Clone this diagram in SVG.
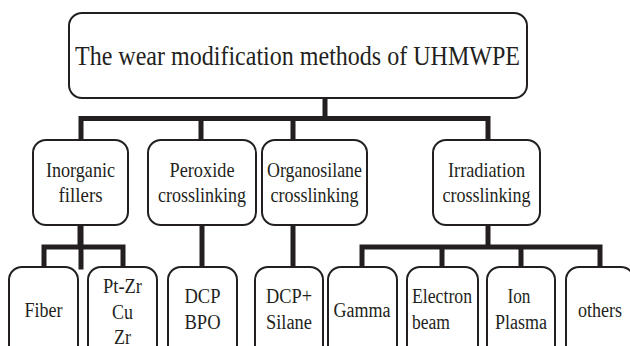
<svg xmlns="http://www.w3.org/2000/svg" width="630" height="346" viewBox="0 0 630 346">
<style>
.box{fill:#fff;stroke:#231f20;stroke-width:2}
.con{fill:none;stroke:#231f20;stroke-width:5;stroke-linejoin:miter;stroke-linecap:square}
</style>
<rect width="630" height="346" fill="#fff"/>
<g id="connectors">
<path class="con" d="M325 98V118.5M81 267V118.5H488V140M201 118.5V140M293 118.5V140"/>
<path class="con" d="M80 225V247M44 267V247H123V267"/>
<path class="con" d="M202 225V267M293 225V267"/>
<path class="con" d="M488 225V247M362 267V247H600V267M442 247V267M521 247V267"/>
</g>
<g font-family="Liberation Serif" fill="#231f20" text-anchor="middle" lengthAdjust="spacingAndGlyphs">
<g id="root">
<rect class="box" x="69" y="13" width="458" height="85" rx="13"/>
<text x="297.5" y="65" font-size="27" textLength="445" lengthAdjust="spacingAndGlyphs">The wear modification methods of UHMWPE</text>
</g>
<g id="inorganic" font-size="21">
<rect class="box" x="33" y="140" width="95" height="85" rx="13"/>
<text x="80.5" y="177" textLength="69" lengthAdjust="spacingAndGlyphs">Inorganic</text>
<text x="80.5" y="202" textLength="44" lengthAdjust="spacingAndGlyphs">fillers</text>
</g>
<g id="peroxide" font-size="21">
<rect class="box" x="148" y="140" width="108" height="85" rx="13"/>
<text x="202" y="177" textLength="65" lengthAdjust="spacingAndGlyphs">Peroxide</text>
<text x="202" y="202" textLength="88" lengthAdjust="spacingAndGlyphs">crosslinking</text>
</g>
<g id="organosilane" font-size="21">
<rect class="box" x="262" y="140" width="105" height="85" rx="13"/>
<text x="314.5" y="177" textLength="95" lengthAdjust="spacingAndGlyphs">Organosilane</text>
<text x="314.5" y="202" textLength="88" lengthAdjust="spacingAndGlyphs">crosslinking</text>
</g>
<g id="irradiation" font-size="21">
<rect class="box" x="433" y="140" width="107" height="85" rx="13"/>
<text x="486.5" y="177" textLength="77" lengthAdjust="spacingAndGlyphs">Irradiation</text>
<text x="486.5" y="202" textLength="88" lengthAdjust="spacingAndGlyphs">crosslinking</text>
</g>
<g id="fiber" font-size="20">
<rect class="box" x="9" y="267" width="69" height="95" rx="13"/>
<text x="43.5" y="317" textLength="38" lengthAdjust="spacingAndGlyphs">Fiber</text>
</g>
<g id="ptzr" font-size="20">
<rect class="box" x="88" y="267" width="69" height="95" rx="13"/>
<text x="122.5" y="293" textLength="39" lengthAdjust="spacingAndGlyphs">Pt-Zr</text>
<text x="122.5" y="319" textLength="21" lengthAdjust="spacingAndGlyphs">Cu</text>
<text x="122.5" y="344" textLength="17" lengthAdjust="spacingAndGlyphs">Zr</text>
</g>
<g id="dcpbpo" font-size="20">
<rect class="box" x="168" y="267" width="69" height="95" rx="13"/>
<text x="202.5" y="303" textLength="36" lengthAdjust="spacingAndGlyphs">DCP</text>
<text x="202.5" y="329" textLength="36" lengthAdjust="spacingAndGlyphs">BPO</text>
</g>
<g id="dcpsilane" font-size="20">
<rect class="box" x="255" y="267" width="68" height="95" rx="13"/>
<text x="289" y="303" textLength="46" lengthAdjust="spacingAndGlyphs">DCP+</text>
<text x="289" y="329" textLength="46" lengthAdjust="spacingAndGlyphs">Silane</text>
</g>
<g id="gamma" font-size="20">
<rect class="box" x="328" y="267" width="69" height="95" rx="13"/>
<text x="362" y="317" textLength="57" lengthAdjust="spacingAndGlyphs">Gamma</text>
</g>
<g id="electron" font-size="20">
<rect class="box" x="407" y="267" width="71" height="95" rx="13"/>
<text x="442" y="303" textLength="60" lengthAdjust="spacingAndGlyphs">Electron</text>
<text x="431" y="329" textLength="38" lengthAdjust="spacingAndGlyphs">beam</text>
</g>
<g id="ion" font-size="20">
<rect class="box" x="487" y="267" width="68" height="95" rx="13"/>
<text x="519" y="303" textLength="23" lengthAdjust="spacingAndGlyphs">Ion</text>
<text x="521" y="329" textLength="52" lengthAdjust="spacingAndGlyphs">Plasma</text>
</g>
<g id="others" font-size="20">
<rect class="box" x="566" y="267" width="68" height="95" rx="13"/>
<text x="600" y="317" textLength="44" lengthAdjust="spacingAndGlyphs">others</text>
</g>
</g>
</svg>
